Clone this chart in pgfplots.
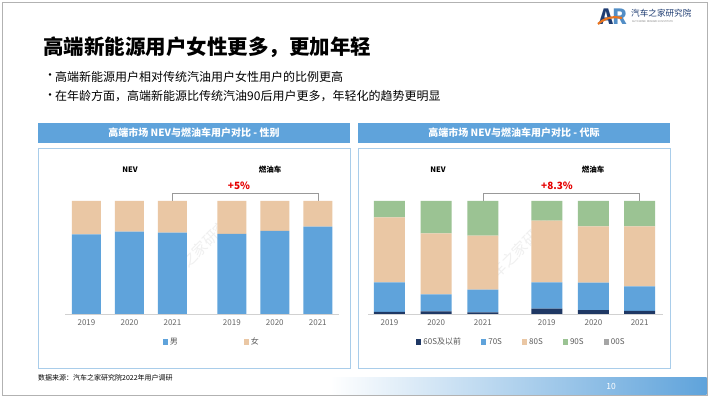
\documentclass[border=0pt]{standalone}
\usepackage{fontspec}
\setmainfont{Noto Sans CJK SC}
\usepackage{pgfplots}
\pgfplotsset{compat=1.18}
\definecolor{cblue}{HTML}{5FA3DB}
\definecolor{cpeach}{HTML}{EAC7A4}
\definecolor{cgreen}{HTML}{9BC393}
\definecolor{cnavy}{HTML}{1F3864}
\definecolor{cgray}{HTML}{A5A5A5}
\definecolor{hdr}{HTML}{5FA3DB}
\definecolor{pbord}{HTML}{A9CDEA}
\definecolor{lnavy}{HTML}{1E3C72}
\definecolor{lorange}{HTML}{E8731E}
\pgfplotsset{
  sq legend/.style={legend image code/.code={\fill[##1] (0pt,-2.6pt) rectangle (5.2pt,2.6pt);}},
}
\begin{document}
\begin{tikzpicture}
\begin{scope}[x=1pt,y=1pt]
% slide background and border
\fill[white] (0,0) rectangle (710,399);
\draw[black!30, line width=0.9pt] (2,4) rectangle (707,397);
% footer gradient
\shade[left color=white, right color=hdr] (330,4.5) rectangle (706.5,21);
\node[text=white, font=\fontsize{8.5}{10}\selectfont] at (611,13) {10};
% logo
\node[font=\fontsize{21}{22}\selectfont\bfseries, text=lnavy, inner sep=0] at (606,382) {A};
\node[font=\fontsize{21}{22}\selectfont\bfseries, text=cblue!80!lnavy, inner sep=0] at (620,382) {R};
\draw[lorange, line width=2.2pt] (598,375) .. controls (605,381) and (612,383) .. (622,381);
\node[anchor=west, font=\fontsize{8.6}{10}\selectfont, text=lnavy, inner sep=0] at (631,386) {汽车之家研究院};
\node[anchor=west, font=\fontsize{2.5}{3}\selectfont, text=black!50, inner sep=0] at (632,377.5) {AUTOHOME\ \ RESEARCH\ \ INSTITUTE};
% title
\node[anchor=west, font=\fontsize{20.5}{24}\selectfont\bfseries, inner sep=0] at (43,352) {高端新能源用户女性更多，更加年轻};
% bullets
\node[anchor=west, font=\fontsize{12}{14}\selectfont, inner sep=0] at (44,322.5) {•};
\node[anchor=west, font=\fontsize{12}{14}\selectfont, inner sep=0] at (55,322.5) {高端新能源用户相对传统汽油用户女性用户的比例更高};
\node[anchor=west, font=\fontsize{12}{14}\selectfont, inner sep=0] at (44,302.5) {•};
\node[anchor=west, font=\fontsize{12}{14}\selectfont, inner sep=0] at (55,302.5) {在年龄方面，高端新能源比传统汽油90后用户更多，年轻化的趋势更明显};
% headers
\fill[hdr] (38,256) rectangle (350,276);
\node[text=white, font=\fontsize{10}{12}\selectfont\bfseries] at (194,266) {高端市场 NEV与燃油车用户对比 - 性别};
\fill[hdr] (358,256) rectangle (670,276);
\node[text=white, font=\fontsize{10}{12}\selectfont\bfseries] at (514,266) {高端市场 NEV与燃油车用户对比 - 代际};
% panels
\draw[pbord, line width=0.8pt] (38,31) rectangle (350,251);
\draw[pbord, line width=0.8pt] (358,31) rectangle (670,251);
% watermarks
\node[rotate=45, text=black!6, font=\fontsize{15}{16}\selectfont] at (200,150) {汽车之家研究院};
\node[rotate=45, text=black!6, font=\fontsize{15}{16}\selectfont] at (520,150) {汽车之家研究院};
% group labels
\node[font=\fontsize{7.5}{9}\selectfont\bfseries] at (130,229) {NEV};
\node[font=\fontsize{7.5}{9}\selectfont\bfseries] at (270,229) {燃油车};
\node[font=\fontsize{10}{12}\selectfont\bfseries, text=red!90!black] at (239,213) {+5\%};
\node[font=\fontsize{7.5}{9}\selectfont\bfseries] at (438,229) {NEV};
\node[font=\fontsize{7.5}{9}\selectfont\bfseries] at (593,229) {燃油车};
\node[font=\fontsize{10}{12}\selectfont\bfseries, text=red!90!black] at (557,213) {+8.3\%};
% source
\node[anchor=west, font=\fontsize{7}{8}\selectfont, inner sep=0] at (38,21) {数据来源：汽车之家研究院2022年用户调研};
\end{scope}
% left chart
\begin{axis}[at={(65pt,85pt)}, anchor=south west, scale only axis,
  width=274.3pt, height=113pt,
  xmin=-0.5, xmax=5.88, ymin=0, ymax=100,
  ybar stacked, bar width=29pt,
  axis x line=bottom, axis y line=none,
  x axis line style={draw=black!18, -},
  xtick={0,1,2,3.38,4.38,5.38},
  xticklabels={2019,2020,2021,2019,2020,2021},
  major tick length=0pt,
  xticklabel style={font=\fontsize{8}{9}\selectfont, text=black!60, yshift=-2pt},
  clip=false, sq legend,
  legend columns=2,
  legend style={at={(0.535,-0.248)}, anchor=center, draw=none, fill=none,
    font=\fontsize{8}{9}\selectfont, text=black!65,
    /tikz/every even column/.append style={column sep=64pt}},
]
\addplot[fill=cblue, draw=none] coordinates {(0,70.5) (1,72.9) (2,72.0) (3.38,70.8) (4.38,73.5) (5.38,77.3)};
\addplot[fill=cpeach, draw=none] coordinates {(0,29.5) (1,27.1) (2,28.0) (3.38,29.2) (4.38,26.5) (5.38,22.7)};
\legend{男,女}
\draw[black!40, line width=0.6pt] (axis cs:2,100) -- (axis cs:2,107.1) -- (axis cs:5.38,107.1) -- (axis cs:5.38,100);
\end{axis}
% right chart
\begin{axis}[at={(368pt,85pt)}, anchor=south west, scale only axis,
  width=295pt, height=113pt,
  xmin=-0.46, xmax=5.86, ymin=0, ymax=100,
  ybar stacked, bar width=31pt,
  axis x line=bottom, axis y line=none,
  x axis line style={draw=black!18, -},
  xtick={0,1,2,3.37,4.37,5.36},
  xticklabels={2019,2020,2021,2019,2020,2021},
  major tick length=0pt,
  xticklabel style={font=\fontsize{8}{9}\selectfont, text=black!60, yshift=-2pt},
  clip=false, sq legend,
  legend columns=5,
  legend style={at={(0.52,-0.248)}, anchor=center, draw=none, fill=none,
    font=\fontsize{8}{9}\selectfont, text=black!65,
    /tikz/every even column/.append style={column sep=18pt}},
]
\addplot[fill=cnavy, draw=none] coordinates {(0,1.8) (1,2.4) (2,1.5) (3.37,4.7) (4.37,3.5) (5.36,2.7)};
\addplot[fill=cblue, draw=none] coordinates {(0,26.2) (1,15.0) (2,20.0) (3.37,23.3) (4.37,24.2) (5.36,21.8)};
\addplot[fill=cpeach, draw=none] coordinates {(0,57.5) (1,54.0) (2,47.8) (3.37,54.6) (4.37,49.9) (5.36,53.1)};
\addplot[fill=cgreen, draw=none] coordinates {(0,14.5) (1,28.6) (2,30.7) (3.37,17.4) (4.37,22.4) (5.36,22.4)};
\addplot[fill=cgray, draw=none] coordinates {(0,0) (1,0) (2,0) (3.37,0) (4.37,0) (5.36,0)};
\legend{60S及以前,70S,80S,90S,00S}
\draw[black!40, line width=0.6pt] (axis cs:2,100) -- (axis cs:2,107.1) -- (axis cs:5.36,107.1) -- (axis cs:5.36,100);
\end{axis}
\end{tikzpicture}
\end{document}
